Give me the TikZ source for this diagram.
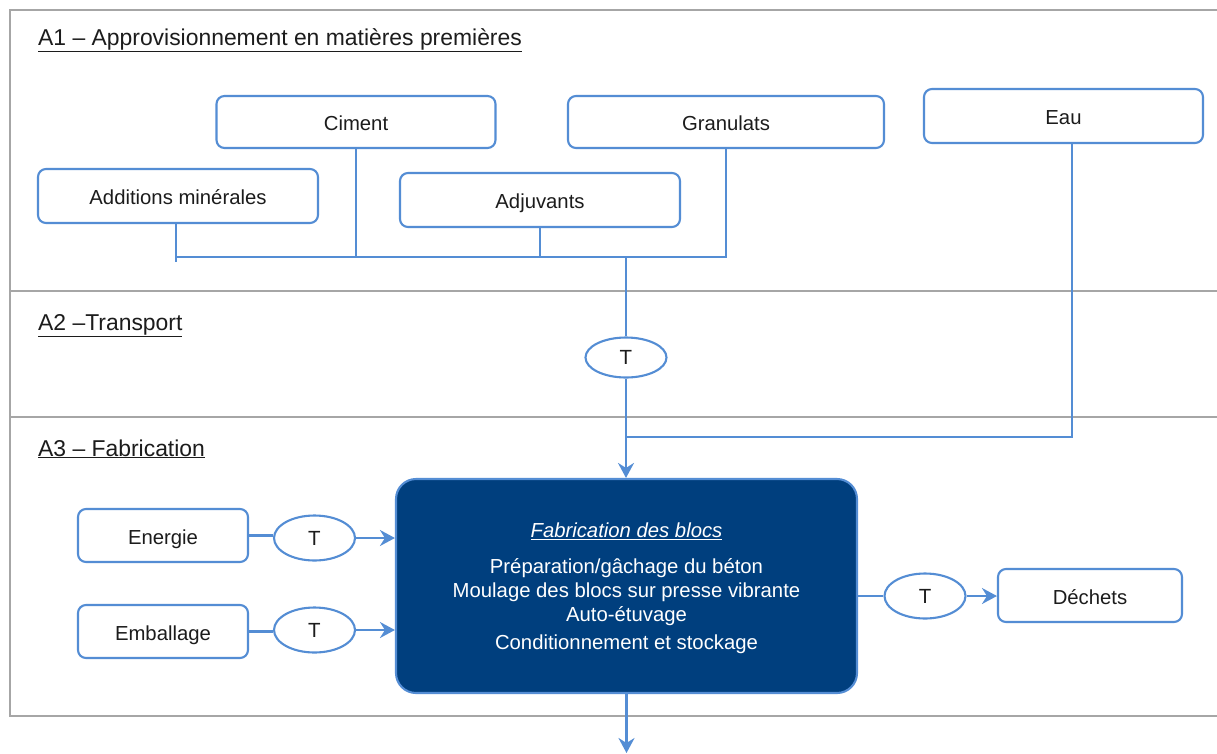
\documentclass[tikz,border=0pt]{standalone}
\usepackage{fontspec}
\setmainfont{Liberation Sans}
\usetikzlibrary{arrows.meta,shapes.geometric}
\definecolor{lblue}{RGB}{84,141,212}
\definecolor{dblue}{RGB}{0,63,126}
\definecolor{framegray}{RGB}{166,166,166}
\definecolor{txt}{RGB}{28,28,28}
\newcommand\myul[1]{\underline{#1}}
\begin{document}
\begin{tikzpicture}[x=1pt,y=-1pt,
  framel/.style={draw=framegray,line width=1.6pt},
  phase/.style={anchor=base west,inner sep=0pt,text=txt,font=\fontsize{22.9}{26}\selectfont},
  box/.style={draw=lblue,line width=2.1pt,rounded corners=8pt,fill=white,text=txt,
    font=\fontsize{20.3}{24}\selectfont,inner sep=0pt,text height=17.5pt,text depth=0pt},
  tell/.style={ellipse,draw=lblue,line width=2.1pt,fill=white,text=txt,
    font=\fontsize{20.5}{24}\selectfont,inner sep=0pt,minimum width=81pt,minimum height=45pt},
  mainbox/.style={draw=lblue,line width=2.1pt,rounded corners=20pt,fill=dblue,text=white,
    font=\fontsize{20.3}{24}\selectfont,align=center,inner sep=0pt,
    minimum width=461pt,minimum height=214pt},
  conn/.style={draw=lblue,line width=2.3pt},
  arr/.style={draw=lblue,line width=2.3pt,-{Stealth[length=15pt,width=16pt,inset=5pt]}}
]
\useasboundingbox (0,0) rectangle (1217,753);
\fill[white] (0,0) rectangle (1217,753);

% frame of the three phases
\draw[framel] (1217,10) -- (10,10) -- (10,716) -- (1217,716);
\draw[framel,line width=2.8pt] (10,291) -- (1217,291);
\draw[framel] (10,417) -- (1217,417);

% phase titles
\node[phase] (a1) at (38,45) {\myul{A1 – Approvisionnement en matières premières}};
\node[phase] (a2) at (38,330) {\myul{A2 –Transport}};
\node[phase] (a3) at (38,456) {\myul{A3 – Fabrication}};

% raw material boxes
\node[box,minimum width=279pt,minimum height=52pt] (ciment) at (356,122) {Ciment};
\node[box,minimum width=316pt,minimum height=52pt] (gran) at (726,122) {Granulats};
\node[box,minimum width=279pt,minimum height=54pt] (eau) at (1063.5,116) {Eau};
\node[box,minimum width=280pt,minimum height=54pt] (add) at (178,196) {Additions minérales};
\node[box,minimum width=280pt,minimum height=54pt] (adj) at (540,200) {Adjuvants};

% collecting bus
\coordinate (busM) at (626,257);
\coordinate (addEnd) at (176,262);
\coordinate (join) at (626,437);
\draw[conn] (add.south -| addEnd) -- (addEnd);
\draw[conn] (addEnd |- busM) -- (gran.south |- busM) -- (gran.south);
\draw[conn] (ciment.south) -- (ciment.south |- busM);
\draw[conn] (adj.south) -- (adj.south |- busM);

% transport
\node[tell,minimum height=40pt] (t2) at (626,357.5) {T};
\draw[conn] (busM) -- (t2.north);

% main process
\node[mainbox] (main) at (626.5,586) {%
  \rule{0pt}{19pt}\textit{\myul{Fabrication des blocs}}\\[12pt]
  Préparation/gâchage du béton\\
  Moulage des blocs sur presse vibrante\\
  Auto-étuvage\\[4pt]
  Conditionnement et stockage};

\draw[arr] (t2.south) -- (t2.south |- main.north);
\draw[conn] ([xshift=8.5pt]eau.south) |- (join);

% inputs
\node[box,minimum width=170pt,minimum height=53pt] (en) at (163,535.5) {Energie};
\node[box,minimum width=170pt,minimum height=53pt] (emb) at (163,631.5) {Emballage};
\node[tell] (te) at (314.5,538) {T};
\node[tell] (tm) at (314.5,630) {T};
\draw[conn] (en.east) -- (en.east -| te.west);
\draw[arr] (te.east) -- (te.east -| main.west);
\draw[conn] (emb.east) -- (emb.east -| tm.west);
\draw[arr] (tm.east) -- (tm.east -| main.west);

% output waste
\node[tell] (td) at (925,596) {T};
\node[box,minimum width=184pt,minimum height=53pt] (dech) at (1090,595.5) {Déchets};
\draw[conn] (main.east |- td.west) -- (td.west);
\draw[arr] (td.east) -- (td.east -| dech.west);

% output
\coordinate (out) at (626.5,753);
\draw[arr] (main.south) -- (out);
\end{tikzpicture}
\end{document}
